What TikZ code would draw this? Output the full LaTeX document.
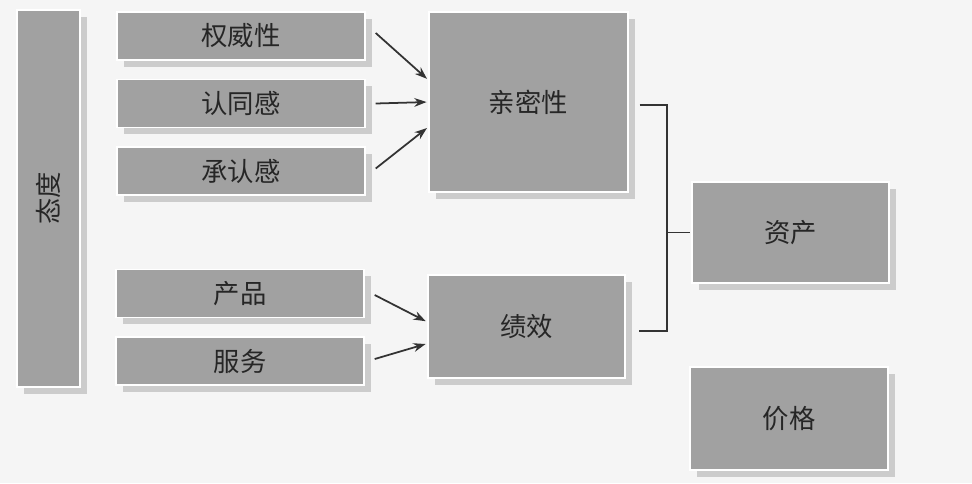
\documentclass[tikz,border=0pt]{standalone}
\usepackage{fontspec}
\setmainfont{Noto Sans CJK SC}
\usetikzlibrary{shadows, arrows.meta}

\begin{document}
\begin{tikzpicture}
            [->, >={Stealth[length=7pt, width=5pt]}, shorten >=1pt, line width=1pt, draw=black!80,
             box/.style={shape=rectangle, fill=black!37, draw=white, line width=0.8pt,
                         text=black!85, font=\fontsize{15pt}{17pt}\selectfont,
                         drop shadow={fill=black!20, opacity=1, shadow xshift=0.13cm, shadow yshift=-0.13cm},
                         inner sep=0pt},
             item/.style={box, minimum width=4.96cm, minimum height=0.96cm}]
            \fill[black!4] (0, 0) rectangle (19.44, -9.66);
            \useasboundingbox (0, 0) rectangle (19.44, -9.66);

            \node[box, minimum width=1.26cm, minimum height=7.54cm] (taidu) at (0.97, -3.97) {\rotatebox{90}{态度}};

            \node[item] (quanwei) at (4.82, -0.72) {权威性};
            \node[item] (rentong) at (4.82, -2.07) {认同感};
            \node[item] (chengren) at (4.82, -3.42) {承认感};
            \node[item] (chanpin) at (4.80, -5.87) {产品};
            \node[item] (fuwu) at (4.80, -7.22) {服务};

            \node[box, minimum width=3.98cm, minimum height=3.60cm] (qinmi) at (10.57, -2.04) {亲密性};
            \node[box, minimum width=3.94cm, minimum height=2.06cm] (jixiao) at (10.53, -6.53) {绩效};
            \node[box, minimum width=3.94cm, minimum height=2.02cm] (zichan) at (15.81, -4.65) {资产};
            \node[box, minimum width=3.96cm, minimum height=2.06cm] (jiage) at (15.78, -8.37) {价格};

            \coordinate (join) at (13.34, -4.65);

            \path [->] ([xshift=0.2cm, yshift=0.06cm]quanwei.east) edge ([yshift=0.44cm]qinmi.west);
            \path [->] ([xshift=0.2cm]rentong.east) edge (qinmi.west);
            \path [->] ([xshift=0.2cm, yshift=0.05cm]chengren.east) edge ([yshift=-0.5cm]qinmi.west);
            \path [->] ([xshift=0.2cm, yshift=-0.03cm]chanpin.east) edge ([yshift=0.09cm]jixiao.west);
            \path [->] ([xshift=0.2cm, yshift=0.04cm]fuwu.east) edge ([yshift=-0.34cm]jixiao.west);

            \draw [-, line width=0.8pt] ([xshift=0.22cm, yshift=-0.06cm]qinmi.east) -| (join) |- ([xshift=0.24cm, yshift=-0.09cm]jixiao.east);
            \draw [-, line width=0.8pt] (join) -- (zichan.west);
        \end{tikzpicture}
\end{document}
